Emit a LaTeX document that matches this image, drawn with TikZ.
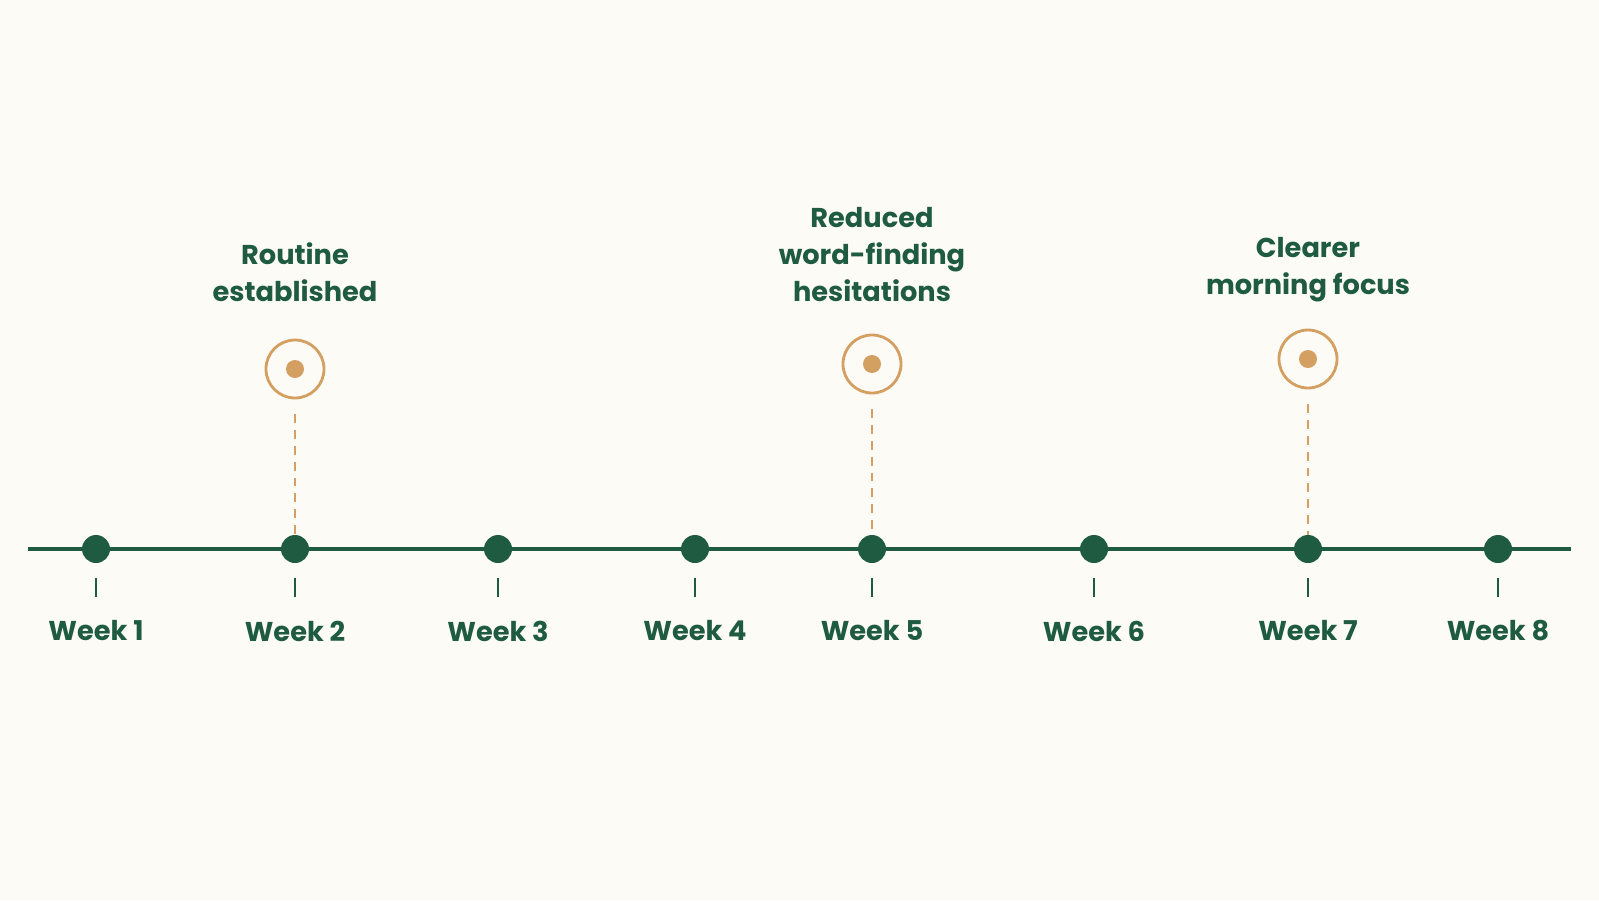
\documentclass[tikz,border=0pt]{standalone}
\usepackage{fontspec}
\setmainfont{Poppins}
\definecolor{pine}{HTML}{1E5B40}
\definecolor{gold}{HTML}{D4A062}
\definecolor{paper}{HTML}{FDFBF6}
\begin{document}
\begin{tikzpicture}[
        x=0.02cm, y=-0.02cm,
        week/.style={circle, fill=pine, minimum size=28*0.02cm, inner sep=0pt},
        ring/.style={circle, draw=gold, line width=1.6pt, fill=paper, minimum size=58*0.02cm, inner sep=0pt},
        core/.style={circle, fill=gold, minimum size=18*0.02cm, inner sep=0pt},
        lbl/.style={text=pine, font=\bfseries\fontsize{15.5}{21}\selectfont, align=center},
        stem/.style={draw=gold, line width=1pt, dash pattern=on 5pt off 4pt},
    ]
    \fill[paper] (0,0) rectangle (1599,900);
    \coordinate (L) at (28,549);
    \coordinate (R) at (1571,549);
    \draw[pine, line width=2.2pt] (L) -- (R);
    \foreach \x [count=\i] in {96,295,498,695,872,1094,1308,1498}{
        \node[week] (w\i) at (\x,549) {};
        \coordinate (t\i) at (\x,578);
        \coordinate (b\i) at (\x,597);
        \draw[pine, line width=1.2pt] (t\i) -- (b\i);
        \node[lbl] (n\i) at (\x,631) {Week \i};
    }
    % milestones
    \foreach \i/\x/\y/\txt in {2/295/369/{Routine\\established}, 5/872/364/{Reduced\\word-finding\\hesitations}, 7/1308/359/{Clearer\\morning focus}}{
        \node[ring] (m\i) at (\x,\y) {};
        \node[core] at (m\i) {};
        \draw[stem] ([yshift=-0.3cm]m\i.south) -- (w\i.north);
        \node[lbl, anchor=south] (c\i) at (\x,308) {\txt};
    }
\end{tikzpicture}
\end{document}
